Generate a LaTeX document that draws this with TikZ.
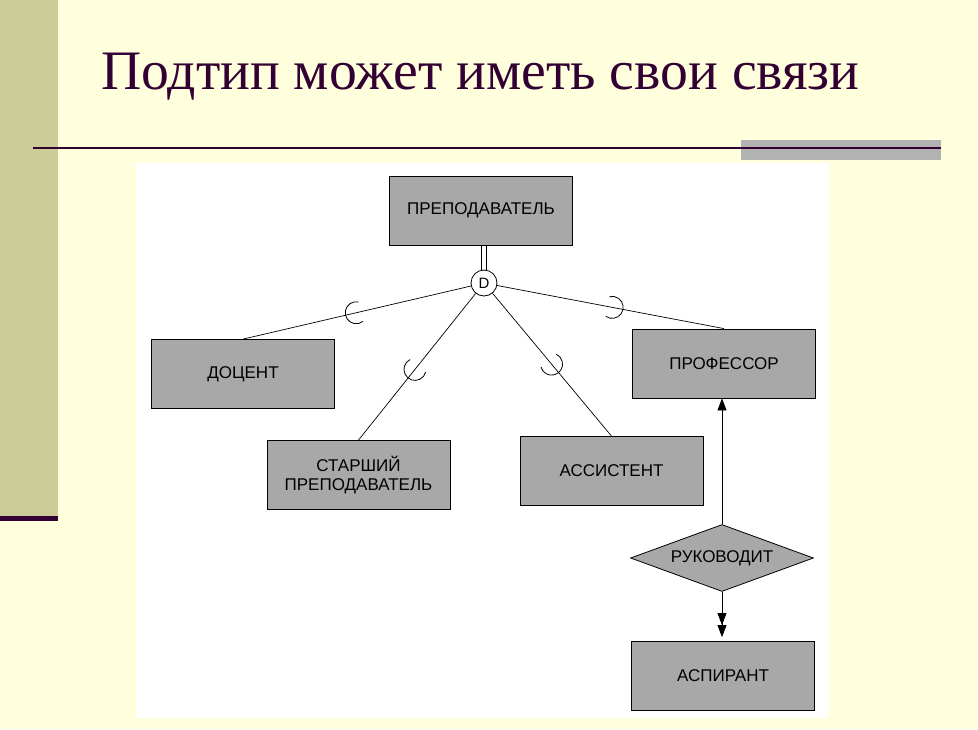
\documentclass[tikz,border=0pt]{standalone}
\usepackage{fontspec}
\setmainfont{Liberation Serif}
\newfontfamily\boxfont{Liberation Sans}
\usetikzlibrary{shapes.geometric,arrows.meta,calc}
\definecolor{bgyellow}{RGB}{255,255,221}
\definecolor{barolive}{RGB}{204,204,153}
\definecolor{titlecol}{RGB}{51,0,51}
\definecolor{boxgray}{RGB}{168,168,168}
\definecolor{bandgray}{RGB}{178,178,178}
\begin{document}
\begin{tikzpicture}[x=1pt,y=-1pt,
  entbox/.style={draw=black, line width=0.8pt, fill=boxgray, minimum width=183pt, minimum height=69pt, inner sep=2pt, font=\boxfont\fontsize{17}{19.5}\selectfont, align=center},
  relbox/.style={diamond, draw=black, line width=0.8pt, fill=boxgray, minimum width=183pt, minimum height=67pt, aspect=2.7, inner sep=0pt, font=\boxfont\fontsize{17}{19.5}\selectfont},
  dcircle/.style={circle, draw=black, line width=0.8pt, fill=white, minimum size=26pt, inner sep=0pt, font=\boxfont\fontsize{15}{16}\selectfont},
  conn/.style={draw=black, line width=0.7pt},
  subarc/.style={draw=black, line width=0.8pt},
  tip/.style={-{Triangle[length=12pt,width=9pt]}}
]
\useasboundingbox (0,0) rectangle (978,729);
% background
\fill[bgyellow] (0,0) rectangle (978,729);
\fill[barolive] (0,0) rectangle (58,516);
\fill[titlecol] (0,516) rectangle (58,521);
\fill[bandgray] (741,140) rectangle (941,160);
\draw[titlecol, line width=2.2pt] (33,148) -- (941,148);
\fill[white] (136,163) rectangle (829,718);
% title
\node[anchor=base west, text=titlecol, font=\fontsize{55.7}{62}\selectfont, inner sep=0pt] (title) at (101,89) {Подтип может иметь свои связи};
% entities
\node[entbox] (pre) at (481,210.5) {ПРЕПОДАВАТЕЛЬ};
\node[dcircle] (D) at (484,283) {D};
\node[entbox] (doc) at (243,374) {ДОЦЕНТ};
\node[entbox] (star) at (358.5,475) {СТАРШИЙ\\ПРЕПОДАВАТЕЛЬ};
\node[entbox] (assist) at (611.5,471) {АССИСТЕНТ};
\node[entbox] (prof) at (724,363.5) {ПРОФЕССОР};
\node[relbox] (ruk) at (722,558) {РУКОВОДИТ};
\node[entbox] (asp) at (723,676) {АСПИРАНТ};
% connectors
\draw[conn] ([xshift=-2.2pt]D.north |- pre.south) -- ([xshift=-2.2pt]D.north);
\draw[conn] ([xshift=2.2pt]D.north |- pre.south) -- ([xshift=2.2pt]D.north);
\foreach \e in {doc,star,assist,prof} {
  \draw[conn] (D) -- (\e.north);
}
\foreach \e/\t in {doc/0.53,star/0.55,assist/0.53,prof/0.534} {
  \coordinate (s\e) at ($(D)!\t!(\e.north)$);
  \draw[subarc] let \p1=($(D)-(s\e)$), \n1={atan2(\y1,\x1)} in
    ([shift={(\n1+65:11pt)}]s\e) arc[start angle=\n1+65, delta angle=230, radius=11pt];
}
\draw[conn, tip] (ruk.north) -- (prof.south -| ruk.north);
\draw[conn, -{Triangle[length=12pt,width=9pt]Triangle[length=12pt,width=9pt]}, shorten >=4pt] (ruk.south) -- (asp.north -| ruk.south);
\end{tikzpicture}
\end{document}
